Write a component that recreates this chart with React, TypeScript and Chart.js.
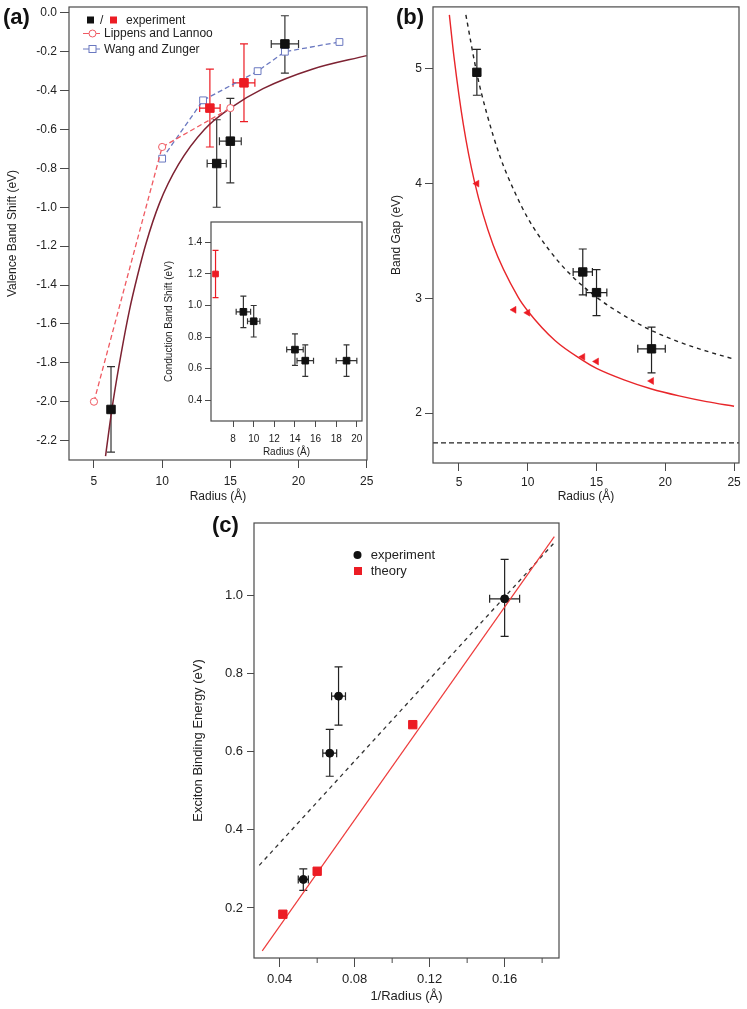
import React, { useEffect, useRef } from 'react';
import { Chart, registerables } from 'chart.js';

Chart.register(...registerables);

const FONT = "'Liberation Sans', Arial, Helvetica, sans-serif";
const AXIS = '#4a4a4a';
const TXT = '#222';
const RED = '#ec1c24';
const BROWN = '#7d2232';
const LIPPENS = '#ef5a62';
const WANG = '#6a78c0';
const BLACK = '#111';

// ---------- Panel (a): valence band shift ----------
const aExpBlackX = [6.25, 14, 15, 19];
const aExpBlackY = [-2.04, -0.775, -0.66, -0.16];
const aExpBlackYLo = [-2.26, -1.0, -0.875, -0.31];
const aExpBlackYHi = [-1.82, -0.55, -0.44, -0.015];
const aExpBlackXErr = [0, 0.7, 0.8, 1.0];
const aExpRedX = [13.5, 16];
const aExpRedY = [-0.49, -0.36];
const aExpRedYLo = [-0.69, -0.56];
const aExpRedYHi = [-0.29, -0.16];
const aExpRedXErr = [0.75, 0.8];
const aLippensX = [5, 10, 15];
const aLippensY = [-2.0, -0.69, -0.49];
const aWangX = [10, 13, 17, 19, 23];
const aWangY = [-0.75, -0.45, -0.3, -0.2, -0.15];
const aFitX = [5.85, 6.0, 6.4, 7.0, 7.6, 8.2, 8.8, 9.8, 11.2, 13.1, 15, 17.4, 21, 25];
const aFitY = [-2.28, -2.2, -2.0, -1.75, -1.53, -1.35, -1.19, -0.98, -0.78, -0.6, -0.49, -0.39, -0.29, -0.22];
const aXTicks = [5, 10, 15, 20, 25];
const aYTicks = [0, -0.2, -0.4, -0.6, -0.8, -1.0, -1.2, -1.4, -1.6, -1.8, -2.0, -2.2];

// ---------- Inset: conduction band shift ----------
const iRedX = [6.3];
const iRedY = [1.2];
const iRedYLo = [1.05];
const iRedYHi = [1.35];
const iBlackX = [9, 10, 14, 15, 19];
const iBlackY = [0.96, 0.9, 0.72, 0.65, 0.65];
const iBlackYLo = [0.86, 0.8, 0.62, 0.55, 0.55];
const iBlackYHi = [1.06, 1.0, 0.82, 0.75, 0.75];
const iBlackXErr = [0.7, 0.6, 0.8, 0.8, 1.0];
const iXTicks = [8, 10, 12, 14, 16, 18, 20];
const iYTicks = [0.4, 0.6, 0.8, 1.0, 1.2, 1.4];

// ---------- Panel (b): band gap ----------
const bExpX = [6.3, 14, 15, 19];
const bExpY = [4.97, 3.23, 3.05, 2.56];
const bExpYLo = [4.77, 3.03, 2.85, 2.35];
const bExpYHi = [5.17, 3.43, 3.25, 2.75];
const bExpXErr = [0, 0.7, 0.75, 1.0];
const bTheoryX = [6.3, 9, 10, 14, 15, 19];
const bTheoryY = [4.0, 2.9, 2.875, 2.49, 2.45, 2.28];
const bRedCurveX = [4.3, 4.64, 5.31, 6.12, 7.47, 9.3, 10, 12, 14, 15, 17, 19, 21, 23, 25];
const bRedCurveY = [5.47, 5.1, 4.52, 4.02, 3.47, 3.01, 2.89, 2.63, 2.46, 2.39, 2.29, 2.21, 2.15, 2.1, 2.06];
const bBlackCurveX = [5.5, 6.3, 7, 8, 9, 10, 11.5, 13, 15, 17, 19, 21, 23, 25];
const bBlackCurveY = [5.47, 4.96, 4.62, 4.23, 3.94, 3.7, 3.43, 3.22, 3.01, 2.85, 2.72, 2.62, 2.54, 2.47];
const bBulkGap = 1.74;
const bXMin = 3.11;
const bXMax = 25.36;
const bXTicks = [5, 10, 15, 20, 25];
const bYTicks = [2, 3, 4, 5];

// ---------- Panel (c): exciton binding energy ----------
const cExpX = [0.16, 0.0714, 0.0667, 0.0526];
const cExpY = [0.991, 0.742, 0.596, 0.273];
const cExpYLo = [0.895, 0.668, 0.537, 0.245];
const cExpYHi = [1.092, 0.817, 0.657, 0.3];
const cExpXErr = [0.008, 0.0037, 0.0037, 0.0027];
const cTheoryX = [0.0417, 0.06, 0.111];
const cTheoryY = [0.184, 0.294, 0.669];
const cTheoryLineX = [0.0307, 0.1865];
const cTheoryLineY = [0.09, 1.15];
const cExpLineX = [0.0291, 0.186];
const cExpLineY = [0.309, 1.132];
const cXTicks = [0.04, 0.08, 0.12, 0.16];
const cXMinorTicks = [0.06, 0.1, 0.14, 0.18];
const cYTicks = [0.2, 0.4, 0.6, 0.8, 1.0];

type Pt = { x: number; y: number };
const zip = (xs: number[], ys: number[]): Pt[] => xs.map((x, i) => ({ x, y: ys[i] }));

const errorBarPlugin = {
  id: 'errorBars',
  beforeDatasetsDraw(chart: any) {
    const ctx = chart.ctx;
    const xs = chart.scales.x;
    const ys = chart.scales.y;
    chart.data.datasets.forEach((ds: any) => {
      const eb = ds.errorBars;
      if (!eb) return;
      ctx.save();
      ctx.strokeStyle = eb.color;
      ctx.lineWidth = eb.lineWidth || 1.2;
      ctx.setLineDash([]);
      ds.data.forEach((p: Pt, j: number) => {
        const px = xs.getPixelForValue(p.x);
        const py = ys.getPixelForValue(p.y);
        ctx.beginPath();
        if (eb.yLo && eb.yHi) {
          const y1 = ys.getPixelForValue(eb.yLo[j]);
          const y2 = ys.getPixelForValue(eb.yHi[j]);
          ctx.moveTo(px, y1); ctx.lineTo(px, y2);
          ctx.moveTo(px - eb.cap, y1); ctx.lineTo(px + eb.cap, y1);
          ctx.moveTo(px - eb.cap, y2); ctx.lineTo(px + eb.cap, y2);
        }
        if (eb.xErr && eb.xErr[j] > 0) {
          const x1 = xs.getPixelForValue(p.x - eb.xErr[j]);
          const x2 = xs.getPixelForValue(p.x + eb.xErr[j]);
          ctx.moveTo(x1, py); ctx.lineTo(x2, py);
          ctx.moveTo(x1, py - eb.cap); ctx.lineTo(x1, py + eb.cap);
          ctx.moveTo(x2, py - eb.cap); ctx.lineTo(x2, py + eb.cap);
        }
        ctx.stroke();
      });
      ctx.restore();
    });
  },
};

const framePlugin = {
  id: 'frame',
  beforeDraw(chart: any, _a: any, opts: any) {
    if (!opts || !opts.fill) return;
    const { left, top, right, bottom } = chart.chartArea;
    const ctx = chart.ctx;
    ctx.save();
    ctx.fillStyle = opts.fill;
    ctx.fillRect(left, top, right - left, bottom - top);
    ctx.restore();
  },
  afterDatasetsDraw(chart: any, _a: any, opts: any) {
    const { left, top, right, bottom } = chart.chartArea;
    const ctx = chart.ctx;
    ctx.save();
    ctx.strokeStyle = AXIS;
    ctx.lineWidth = (opts && opts.width) || 1.2;
    ctx.setLineDash([]);
    ctx.strokeRect(left, top, right - left, bottom - top);
    if (opts && opts.minor) {
      const xs = chart.scales.x;
      ctx.lineWidth = 1;
      ctx.beginPath();
      opts.minor.forEach((v: number) => {
        const x = xs.getPixelForValue(v);
        ctx.moveTo(x, bottom);
        ctx.lineTo(x, bottom + opts.minorLen);
      });
      ctx.stroke();
    }
    ctx.restore();
  },
};

function makeAxis(o: {
  min: number; max: number; ticks: number[]; fmt: (v: number) => string; title: string;
  size: number; font: number; tickLen: number; pad: number; titlePad: number; vertical: boolean;
}) {
  return {
    type: 'linear',
    min: o.min,
    max: o.max,
    afterBuildTicks: (s: any) => { s.ticks = o.ticks.map((v) => ({ value: v })); },
    afterFit: (s: any) => {
      if (o.vertical) s.width = o.size; else s.height = o.size;
      s.paddingTop = 0; s.paddingBottom = 0; s.paddingLeft = 0; s.paddingRight = 0;
    },
    border: { display: false },
    grid: { display: true, drawOnChartArea: false, drawTicks: true, tickLength: o.tickLen, color: AXIS, lineWidth: 1 },
    ticks: {
      callback: (v: any) => o.fmt(Number(v)),
      font: { size: o.font, family: FONT }, color: TXT, padding: o.pad,
      maxRotation: 0, minRotation: 0, autoSkip: false, includeBounds: false,
    },
    title: {
      display: true, text: o.title, font: { size: o.font, family: FONT }, color: TXT,
      padding: o.vertical ? { top: o.titlePad, bottom: 0 } : { top: 0, bottom: o.titlePad },
    },
  };
}

const baseOpts = (padding: any, plugins: any, scales: any) => ({
  responsive: false,
  animation: false,
  events: [],
  layout: { padding },
  plugins: { legend: { display: false }, tooltip: { enabled: false }, ...plugins },
  scales,
});

const f1 = (v: number) => v.toFixed(1);
const f0 = (v: number) => v.toFixed(0);
const f2 = (v: number) => v.toFixed(2);

const makeA = () => ({
  type: 'scatter',
  data: {
    datasets: [
      {
        label: 'experiment', data: zip(aExpBlackX, aExpBlackY), pointStyle: 'rect', pointRadius: 6,
        pointBackgroundColor: BLACK, pointBorderColor: BLACK,
        errorBars: { yLo: aExpBlackYLo, yHi: aExpBlackYHi, xErr: aExpBlackXErr, color: '#333', cap: 4 },
      },
      {
        label: 'experiment', data: zip(aExpRedX, aExpRedY), pointStyle: 'rect', pointRadius: 6,
        pointBackgroundColor: RED, pointBorderColor: RED,
        errorBars: { yLo: aExpRedYLo, yHi: aExpRedYHi, xErr: aExpRedXErr, color: RED, cap: 4 },
      },
      {
        label: 'Lippens and Lannoo', data: zip(aLippensX, aLippensY), showLine: true,
        borderColor: LIPPENS, borderDash: [5, 3], borderWidth: 1.3,
        pointStyle: 'circle', pointRadius: 3.6, pointBackgroundColor: '#fff', pointBorderColor: LIPPENS, pointBorderWidth: 1,
      },
      {
        label: 'Wang and Zunger', data: zip(aWangX, aWangY), showLine: true,
        borderColor: WANG, borderDash: [5, 3], borderWidth: 1.3,
        pointStyle: 'rect', pointRadius: 4.8, pointBackgroundColor: '#fff', pointBorderColor: WANG, pointBorderWidth: 1,
      },
      {
        label: 'fit', data: zip(aFitX, aFitY), showLine: true, borderColor: BROWN, borderWidth: 1.5,
        pointRadius: 0, cubicInterpolationMode: 'monotone',
      },
    ],
  },
  options: baseOpts({ left: 0, top: 5, right: 13, bottom: 0 }, { frame: { width: 1.2 } }, {
    x: makeAxis({ min: 3.17, max: 25.02, ticks: aXTicks, fmt: f0, title: 'Radius (Å)', size: 50, font: 12, tickLen: 8, pad: 6, titlePad: 6, vertical: false }),
    y: makeAxis({ min: -2.3, max: 0.03, ticks: aYTicks, fmt: f1, title: 'Valence Band Shift (eV)', size: 69, font: 12, tickLen: 9, pad: 3, titlePad: 5, vertical: true }),
  }),
  plugins: [errorBarPlugin, framePlugin],
});

const makeInset = () => ({
  type: 'scatter',
  data: {
    datasets: [
      {
        label: 'red', data: zip(iRedX, iRedY), pointStyle: 'rect', pointRadius: 4,
        pointBackgroundColor: RED, pointBorderColor: RED,
        errorBars: { yLo: iRedYLo, yHi: iRedYHi, color: RED, cap: 3 },
      },
      {
        label: 'black', data: zip(iBlackX, iBlackY), pointStyle: 'rect', pointRadius: 4.7,
        pointBackgroundColor: BLACK, pointBorderColor: BLACK,
        errorBars: { yLo: iBlackYLo, yHi: iBlackYHi, xErr: iBlackXErr, color: '#333', cap: 3 },
      },
    ],
  },
  options: baseOpts({ left: 0, top: 7, right: 8, bottom: 0 }, { frame: { width: 1.2, fill: '#fff' } }, {
    x: makeAxis({ min: 5.86, max: 20.5, ticks: iXTicks, fmt: f0, title: 'Radius (Å)', size: 39, font: 10, tickLen: 6, pad: 6, titlePad: 2, vertical: false }),
    y: makeAxis({ min: 0.267, max: 1.53, ticks: iYTicks, fmt: f1, title: 'Conduction Band Shift (eV)', size: 53, font: 10, tickLen: 6, pad: 3, titlePad: 5, vertical: true }),
  }),
  plugins: [errorBarPlugin, framePlugin],
});

const makeB = () => ({
  type: 'scatter',
  data: {
    datasets: [
      {
        label: 'experiment', data: zip(bExpX, bExpY), pointStyle: 'rect', pointRadius: 5.9,
        pointBackgroundColor: BLACK, pointBorderColor: BLACK,
        errorBars: { yLo: bExpYLo, yHi: bExpYHi, xErr: bExpXErr, color: '#222', cap: 4 },
      },
      {
        label: 'theory', data: zip(bTheoryX, bTheoryY), pointStyle: 'triangle', rotation: -90, pointRadius: 4,
        pointBackgroundColor: RED, pointBorderColor: RED, pointBorderWidth: 0.5,
      },
      {
        label: 'theory fit', data: zip(bRedCurveX, bRedCurveY), showLine: true, borderColor: '#e8262a', borderWidth: 1.4,
        pointRadius: 0, cubicInterpolationMode: 'monotone',
      },
      {
        label: 'experiment fit', data: zip(bBlackCurveX, bBlackCurveY), showLine: true, borderColor: '#222', borderWidth: 1.4,
        borderDash: [4, 4], pointRadius: 0, cubicInterpolationMode: 'monotone',
      },
      {
        label: 'bulk gap', data: zip([bXMin, bXMax], [bBulkGap, bBulkGap]), showLine: true, borderColor: '#222', borderWidth: 1.3,
        borderDash: [5, 3], pointRadius: 0,
      },
    ],
  },
  options: baseOpts({ left: 0, top: 6, right: 8, bottom: 0 }, { frame: { width: 1.2 } }, {
    x: makeAxis({ min: bXMin, max: bXMax, ticks: bXTicks, fmt: f0, title: 'Radius (Å)', size: 47, font: 12, tickLen: 8, pad: 4, titlePad: 6, vertical: false }),
    y: makeAxis({ min: 1.565, max: 5.54, ticks: bYTicks, fmt: f0, title: 'Band Gap (eV)', size: 53, font: 12, tickLen: 8, pad: 3, titlePad: 9, vertical: true }),
  }),
  plugins: [errorBarPlugin, framePlugin],
});

const makeC = () => ({
  type: 'scatter',
  data: {
    datasets: [
      {
        label: 'experiment', data: zip(cExpX, cExpY), pointStyle: 'circle', pointRadius: 4,
        pointBackgroundColor: BLACK, pointBorderColor: BLACK,
        errorBars: { yLo: cExpYLo, yHi: cExpYHi, xErr: cExpXErr, color: '#222', cap: 4 },
      },
      {
        label: 'theory', data: zip(cTheoryX, cTheoryY), pointStyle: 'rect', pointRadius: 5.9,
        pointBackgroundColor: RED, pointBorderColor: RED,
      },
      {
        label: 'theory fit', data: zip(cTheoryLineX, cTheoryLineY), showLine: true, borderColor: '#ee3b3b', borderWidth: 1.2,
        pointRadius: 0,
      },
      {
        label: 'experiment fit', data: zip(cExpLineX, cExpLineY), showLine: true, borderColor: '#333', borderWidth: 1.3,
        borderDash: [4, 4], pointRadius: 0,
      },
    ],
  },
  options: baseOpts({ left: 0, top: 13, right: 11, bottom: 0 }, { frame: { width: 1.2, minor: cXMinorTicks, minorLen: 5 } }, {
    x: makeAxis({ min: 0.0263, max: 0.189, ticks: cXTicks, fmt: f2, title: '1/Radius (Å)', size: 51, font: 13, tickLen: 9, pad: 5, titlePad: 5, vertical: false }),
    y: makeAxis({ min: 0.072, max: 1.185, ticks: cYTicks, fmt: f1, title: 'Exciton Binding Energy (eV)', size: 74, font: 13, tickLen: 7, pad: 4, titlePad: 11, vertical: true }),
  }),
  plugins: [errorBarPlugin, framePlugin],
});

function ChartCanvas(props: { left: number; top: number; width: number; height: number; make: () => any }) {
  const ref = useRef<HTMLCanvasElement | null>(null);
  useEffect(() => {
    if (!ref.current) return;
    const c = new Chart(ref.current, props.make());
    return () => c.destroy();
  }, []);
  return (
    <canvas
      ref={ref}
      width={props.width}
      height={props.height}
      style={{ position: 'absolute', left: props.left, top: props.top, width: props.width, height: props.height }}
    />
  );
}

const txt = (left: number, cy: number, size: number, s: string, extra: any = {}) => (
  <div style={{ position: 'absolute', left, top: cy - size * 0.6, fontSize: size, lineHeight: `${size * 1.2}px`, whiteSpace: 'nowrap', color: TXT, ...extra }}>
    {s}
  </div>
);

export default function App() {
  return (
    <div style={{ position: 'absolute', left: 0, top: 0, width: 747, height: 1009, background: '#fff', fontFamily: FONT, overflow: 'hidden' }}>
      <ChartCanvas left={0} top={0} width={380} height={510} make={makeA} />
      <ChartCanvas left={158} top={215} width={212} height={245} make={makeInset} />
      <ChartCanvas left={380} top={0} width={367} height={510} make={makeB} />
      <ChartCanvas left={180} top={510} width={390} height={499} make={makeC} />

      {/* panel labels */}
      {txt(3, 17, 22, '(a)', { fontWeight: 'bold', color: '#111' })}
      {txt(396, 17, 22, '(b)', { fontWeight: 'bold', color: '#111' })}
      {txt(212, 525, 22, '(c)', { fontWeight: 'bold', color: '#111' })}

      {/* legend (a) */}
      <svg width={120} height={60} style={{ position: 'absolute', left: 0, top: 0 }}>
        <rect x={87} y={16.5} width={7} height={7} fill={BLACK} />
        <rect x={110} y={16.5} width={7} height={7} fill={RED} />
        <line x1={83} y1={33.5} x2={100} y2={33.5} stroke={LIPPENS} strokeWidth={1} />
        <circle cx={92.5} cy={33.5} r={3.5} fill="#fff" stroke={LIPPENS} strokeWidth={1} />
        <line x1={83} y1={49} x2={100} y2={49} stroke={WANG} strokeWidth={1} />
        <rect x={89} y={45.5} width={7} height={7} fill="#fff" stroke={WANG} strokeWidth={1} />
      </svg>
      {txt(100, 20, 12, '/')}
      {txt(126, 20, 12, 'experiment')}
      {txt(104, 33.5, 12, 'Lippens and Lannoo')}
      {txt(104, 49, 12, 'Wang and Zunger')}

      {/* legend (c) */}
      <svg width={30} height={40} style={{ position: 'absolute', left: 343, top: 545 }}>
        <circle cx={14.5} cy={10} r={4} fill={BLACK} />
        <rect x={11} y={22} width={8} height={8} fill={RED} />
      </svg>
      {txt(370.7, 555, 13, 'experiment')}
      {txt(370.7, 571, 13, 'theory')}
    </div>
  );
}
